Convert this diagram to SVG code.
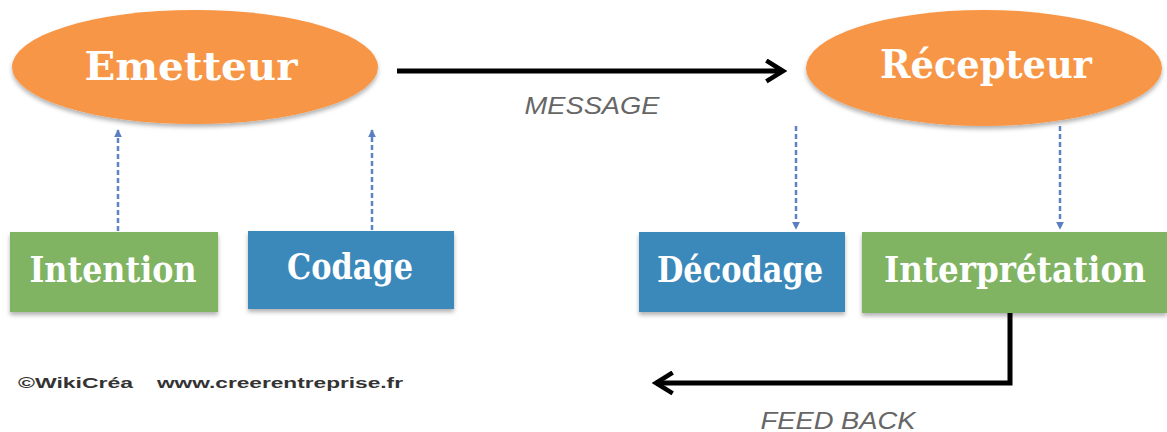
<svg xmlns="http://www.w3.org/2000/svg" width="1167" height="432" viewBox="0 0 1167 432">
<defs>
<marker id="open" viewBox="0 0 12 12" refX="10" refY="6" markerWidth="5" markerHeight="5" orient="auto" markerUnits="strokeWidth"><path d="M2,1 L10,6 L2,11" fill="none" stroke="#000" stroke-width="2.2"/></marker>
<marker id="tri" viewBox="0 0 10 10" refX="9" refY="5" markerWidth="8" markerHeight="8" orient="auto" markerUnits="userSpaceOnUse"><path d="M0,0 L10,5 L0,10 Z" fill="#5b7fc0"/></marker>
<filter id="sh" x="-10%" y="-10%" width="120%" height="130%"><feDropShadow dx="0" dy="3" stdDeviation="2" flood-color="#000" flood-opacity="0.3"/></filter>
</defs>
<style>
.ell{fill:#f79646;filter:url(#sh)}
.green{fill:#80b462;filter:url(#sh)}
.blue{fill:#3a88bb;filter:url(#sh)}
.t{font-family:"DejaVu Serif","Liberation Serif",serif;font-weight:bold;fill:#fff;text-anchor:middle}
.lbl{font-family:"Liberation Sans",Arial,sans-serif;font-style:italic;font-size:24px;fill:#666;text-anchor:middle}
.dash{stroke:#5b84c4;stroke-width:2.5;stroke-dasharray:5,3;fill:none}
.main{stroke:#000;stroke-width:5;fill:none}
.small{font-family:"Liberation Sans",Arial,sans-serif;font-weight:bold;font-size:14px;fill:#333}
</style>
<rect width="1167" height="432" fill="#fff"/>
<g id="emetteur"><ellipse class="ell" cx="195" cy="67" rx="183" ry="57"/><text class="t" x="191" y="80" font-size="40" textLength="213" lengthAdjust="spacingAndGlyphs">Emetteur</text></g>
<g id="recepteur"><ellipse class="ell" cx="984" cy="68" rx="178" ry="58"/><text class="t" x="986" y="78" font-size="40" textLength="212" lengthAdjust="spacingAndGlyphs">Récepteur</text></g>
<g id="intention"><rect class="green" x="10" y="232" width="208" height="80"/><text class="t" x="113" y="282" font-size="35" textLength="167" lengthAdjust="spacingAndGlyphs">Intention</text></g>
<g id="codage"><rect class="blue" x="248" y="231" width="206" height="78"/><text class="t" x="350" y="279" font-size="35" textLength="126" lengthAdjust="spacingAndGlyphs">Codage</text></g>
<g id="decodage"><rect class="blue" x="639" y="232" width="206" height="80"/><text class="t" x="740" y="282" font-size="35" textLength="166" lengthAdjust="spacingAndGlyphs">Décodage</text></g>
<g id="interpretation"><rect class="green" x="862" y="232" width="305" height="81"/><text class="t" x="1015" y="282" font-size="35" textLength="262" lengthAdjust="spacingAndGlyphs">Interprétation</text></g>
<g id="connectors">
<path class="main" d="M397,71 H783" marker-end="url(#open)"/>
<path class="main" d="M1010,313 V383 H656" marker-end="url(#open)"/>
<path class="dash" d="M118,231 V130" marker-end="url(#tri)"/>
<path class="dash" d="M372,230 V130" marker-end="url(#tri)"/>
<path class="dash" d="M796,126 V229" marker-end="url(#tri)"/>
<path class="dash" d="M1060,126 V229" marker-end="url(#tri)"/>
</g>
<text class="lbl" x="592" y="114" textLength="135" lengthAdjust="spacingAndGlyphs">MESSAGE</text>
<text class="lbl" x="838" y="429" textLength="155" lengthAdjust="spacingAndGlyphs">FEED BACK</text>
<text class="small" x="18" y="388" textLength="115" lengthAdjust="spacingAndGlyphs">©WikiCréa</text>
<text class="small" x="157" y="388" textLength="246" lengthAdjust="spacingAndGlyphs">www.creerentreprise.fr</text>
</svg>
